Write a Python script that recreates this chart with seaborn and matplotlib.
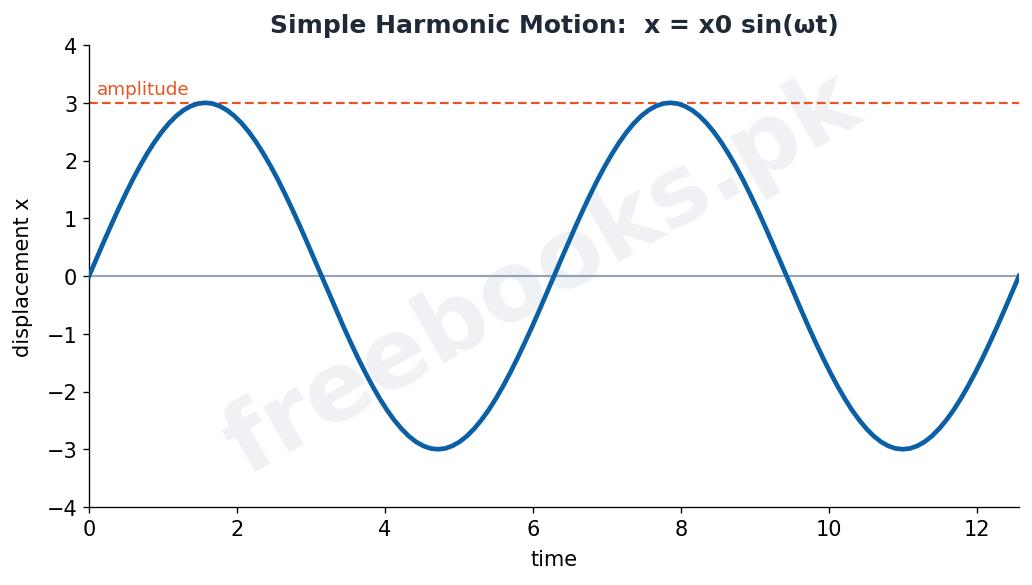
import matplotlib
matplotlib.use("Agg")
import matplotlib.pyplot as plt
import seaborn as sns
import pandas as pd

# values
time = [0.000, 0.098, 0.196, 0.295, 0.393, 0.491, 0.589, 0.687, 0.785, 0.884,
        0.982, 1.080, 1.178, 1.276, 1.374, 1.473, 1.571, 1.669, 1.767, 1.865,
        1.963, 2.062, 2.160, 2.258, 2.356, 2.454, 2.553, 2.651, 2.749, 2.847,
        2.945, 3.043, 3.142, 3.240, 3.338, 3.436, 3.534, 3.632, 3.731, 3.829,
        3.927, 4.025, 4.123, 4.222, 4.320, 4.418, 4.516, 4.614, 4.712, 4.811,
        4.909, 5.007, 5.105, 5.203, 5.301, 5.400, 5.498, 5.596, 5.694, 5.792,
        5.890, 5.989, 6.087, 6.185, 6.283, 6.381, 6.480, 6.578, 6.676, 6.774,
        6.872, 6.970, 7.069, 7.167, 7.265, 7.363, 7.461, 7.560, 7.658, 7.756,
        7.854, 7.952, 8.050, 8.149, 8.247, 8.345, 8.443, 8.541, 8.639, 8.738,
        8.836, 8.934, 9.032, 9.130, 9.228, 9.327, 9.425, 9.523, 9.621, 9.719,
        9.817, 9.916, 10.014, 10.112, 10.210, 10.308, 10.407, 10.505, 10.603,
        10.701, 10.799, 10.897, 10.996, 11.094, 11.192, 11.290, 11.388, 11.486,
        11.585, 11.683, 11.781, 11.879, 11.977, 12.076, 12.174, 12.272, 12.370,
        12.468, 12.566]
displacement = [
    0.000, 0.294, 0.585, 0.871, 1.148, 1.414, 1.667, 1.903, 2.121, 2.319,
    2.494, 2.646, 2.772, 2.871, 2.942, 2.986, 3.000, 2.986, 2.942, 2.871,
    2.772, 2.646, 2.494, 2.319, 2.121, 1.903, 1.667, 1.414, 1.148, 0.871,
    0.585, 0.294, 0.000, -0.294, -0.585, -0.871, -1.148, -1.414, -1.667, -1.903,
    -2.121, -2.319, -2.494, -2.646, -2.772, -2.871, -2.942, -2.986, -3.000, -2.986,
    -2.942, -2.871, -2.772, -2.646, -2.494, -2.319, -2.121, -1.903, -1.667, -1.414,
    -1.148, -0.871, -0.585, -0.294, 0.000, 0.294, 0.585, 0.871, 1.148, 1.414,
    1.667, 1.903, 2.121, 2.319, 2.494, 2.646, 2.772, 2.871, 2.942, 2.986,
    3.000, 2.986, 2.942, 2.871, 2.772, 2.646, 2.494, 2.319, 2.121, 1.903,
    1.667, 1.414, 1.148, 0.871, 0.585, 0.294, 0.000, -0.294, -0.585, -0.871,
    -1.148, -1.414, -1.667, -1.903, -2.121, -2.319, -2.494, -2.646, -2.772, -2.871,
    -2.942, -2.986, -3.000, -2.986, -2.942, -2.871, -2.772, -2.646, -2.494, -2.319,
    -2.121, -1.903, -1.667, -1.414, -1.148, -0.871, -0.585, -0.294, 0.000]
amplitude = 3.0
x_limits = [0.0, 12.566]
y_limits = [-4, 4]
title = "Simple Harmonic Motion:  x = x0 sin(\u03c9t)"

df = pd.DataFrame({"time": time, "displacement": displacement})

plt.rcParams['font.family'] = ['DejaVu Sans']

fig, ax = plt.subplots(figsize=(8.608, 4.883), dpi=120)
fig.subplots_adjust(left=0.0862, right=0.9865, top=0.9215, bottom=0.1331)

ax.text(0.487, 0.505, "freebooks.pk", transform=ax.transAxes, rotation=30,
        fontsize=58, fontweight="bold", color="#eef0f3", alpha=0.9,
        ha="center", va="center", zorder=0)

ax.axhline(0, color="#94a3b8", lw=1.3, zorder=1)
ax.axhline(amplitude, color="#e8531f", lw=1.3, ls=(0, (4, 2)), zorder=2)
ax.text(0.1, amplitude + 0.08, "amplitude", color="#e8531f", fontsize=11,
        ha="left", va="bottom")

sns.lineplot(data=df, x="time", y="displacement", ax=ax, color="#0b5fa5",
             lw=2.8, sort=False, zorder=3)

ax.set_xlim(*x_limits)
ax.set_ylim(*y_limits)
ax.set_xlabel("time", fontsize=12.5, labelpad=6)
ax.set_ylabel("displacement x", fontsize=12.5, labelpad=8)
ax.tick_params(labelsize=12.5)
ax.set_title(title, fontsize=15, fontweight="bold", color="#1f2937", pad=8)
sns.despine(ax=ax)

fig.savefig("out.png", dpi=120)
